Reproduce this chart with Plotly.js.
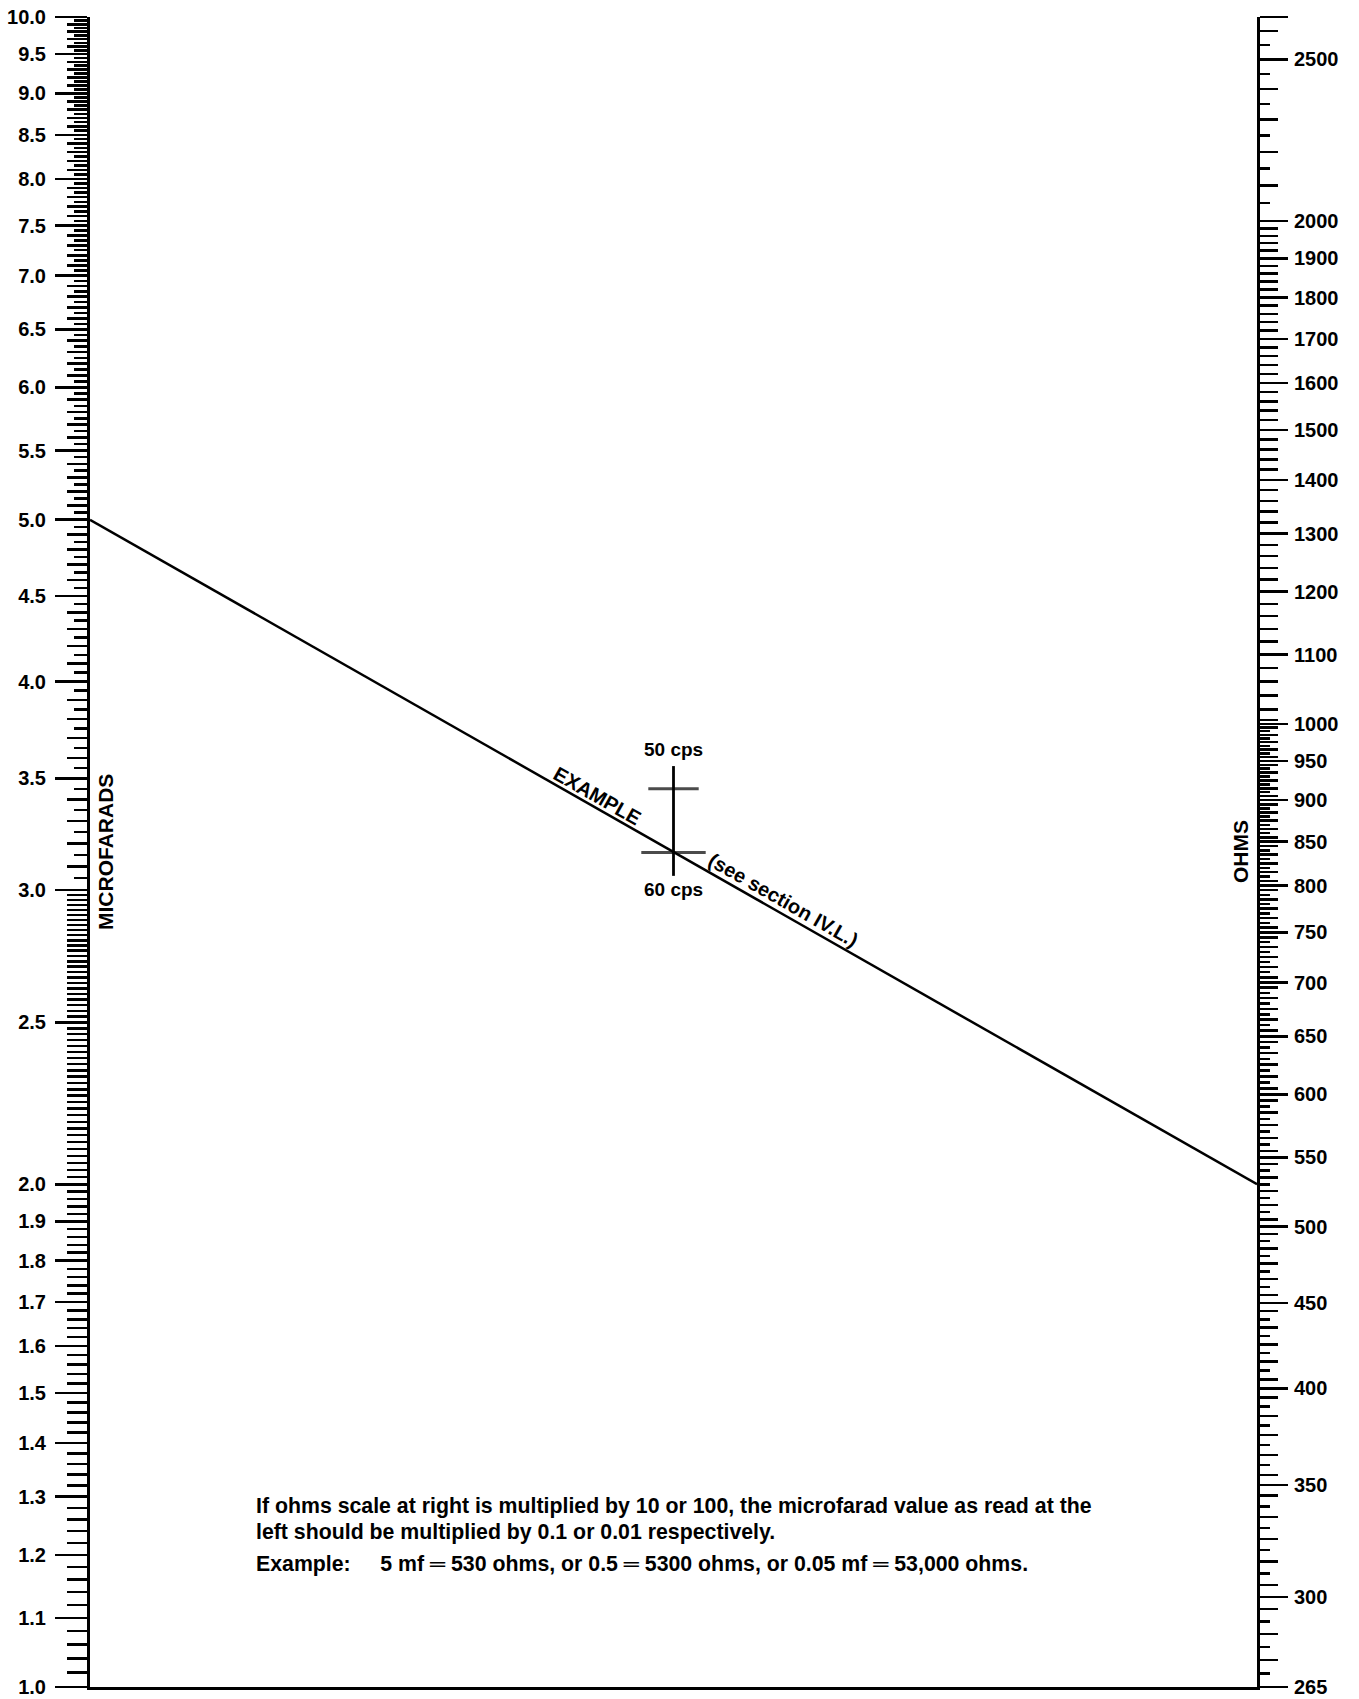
<!DOCTYPE html>
<html><head><meta charset="utf-8">
<script src="https://cdn.plot.ly/plotly-3.0.1.min.js"></script>
<style>html,body{margin:0;padding:0;background:#fff}#chart{width:1359px;height:1699px}</style>
</head><body><div id="chart"></div>
<script>
// ---- Left scale: microfarads ----
const mfdLabels = [1.0,1.1,1.2,1.3,1.4,1.5,1.6,1.7,1.8,1.9,2.0,2.5,3.0,3.5,4.0,4.5,5.0,5.5,6.0,6.5,7.0,7.5,8.0,8.5,9.0,9.5,10.0];
// graduation bands: [from, to, medium step, short step]
const mfdBands = [[1,3,0.02,null],[3,10,0.1,0.05]];
const mfdRange = [1, 10];

// ---- Right scale: ohms ----
const ohmLabels = [265,300,350,400,450,500,550,600,650,700,750,800,850,900,950,1000,1100,1200,1300,1400,1500,1600,1700,1800,1900,2000,2500,2650];
const ohmText   = ['265','300','350','400','450','500','550','600','650','700','750','800','850','900','950','1000','1100','1200','1300','1400','1500','1600','1700','1800','1900','2000','2500',''];
const ohmBands = [[265,1000,10,5],[1000,2000,20,null],[2000,2650,100,50]];
const ohmRange = [265, 2650];

// ---- Example ----
const exampleMfd = 5.0;
const exampleOhms = 530;
const freqLabels = ['50 cps','60 cps'];
const freqMarks  = [3.45, 3.16];     // positions on the microfarad scale (centre line)
const freqStem   = [3.06, 3.56];

const noteLines = [
  'If ohms scale at right is multiplied by 10 or 100, the microfarad value as read at the',
  'left should be multiplied by 0.1 or 0.01 respectively.',
  'Example:&nbsp;&nbsp;&nbsp;&nbsp;&nbsp;5 mf&nbsp;\u2550&nbsp;530 ohms, or 0.5&nbsp;\u2550&nbsp;5300 ohms, or 0.05 mf&nbsp;\u2550&nbsp;53,000 ohms.'
];

function grads(bands, idx, exclude){
  const out=[]; const ex=new Set(exclude.map(v=>(+v).toFixed(4)));
  bands.forEach(b=>{
    const step=b[idx]; if(!step) return;
    const n=Math.round((b[1]-b[0])/step);
    for(let i=0;i<=n;i++){
      const v=+(b[0]+i*step).toFixed(4); const k=v.toFixed(4);
      if(!ex.has(k)){ex.add(k); out.push(v);}
    }
  });
  return out;
}
const mfdMed = grads(mfdBands,2,mfdLabels);
const mfdShort = grads(mfdBands,3,mfdLabels.concat(mfdMed));
const ohmMed = grads(ohmBands,2,ohmLabels);
const ohmShort = grads(ohmBands,3,ohmLabels.concat(ohmMed));

const L = Math.log10;
const leftR = [L(mfdRange[0]), L(mfdRange[1])];
const rightR = [L(ohmRange[0]), L(ohmRange[1])];
// map an ohm value onto the (left) microfarad axis through the two axis ranges
function ohmOnLeft(v){
  const f=(L(v)-rightR[0])/(rightR[1]-rightR[0]);
  return Math.pow(10, leftR[0]+f*(leftR[1]-leftR[0]));
}

const FONT = 'Liberation Sans, Arial, sans-serif';
const BLACK = '#000';
const tickFont = {family:FONT, size:20, color:BLACK, weight:'bold'};

function yax(extra){
  return Object.assign({
    type:'log', showgrid:false, zeroline:false, ticks:'outside', tickmode:'array',
    tickwidth:2.5, tickcolor:BLACK, fixedrange:true, anchor:'x'
  }, extra);
}

const traces = [
  {x:[0,1], y:[exampleMfd, ohmOnLeft(exampleOhms)], mode:'lines', line:{color:BLACK,width:2.5},
   xaxis:'x', yaxis:'y', hoverinfo:'skip', showlegend:false},
  {x:[0.5,0.5], y:freqStem, mode:'lines', line:{color:BLACK,width:2.8}, hoverinfo:'skip', showlegend:false},
  {x:freqMarks.map(()=>0.5), y:freqMarks, mode:'markers',
   marker:{symbol:'line-ew', size:[36,46], line:{color:BLACK,width:3}}, hoverinfo:'skip', showlegend:false},
  {x:[], y:[], yaxis:'y2', showlegend:false},
  {x:[], y:[], yaxis:'y3', showlegend:false},
  {x:[], y:[], yaxis:'y4', showlegend:false},
  {x:[], y:[], yaxis:'y5', showlegend:false},
  {x:[], y:[], yaxis:'y6', showlegend:false}
];

// positions along the example line
const uL = L(exampleMfd), uR = L(ohmOnLeft(exampleOhms));
const onLine = t => uL + t*(uR-uL);
const lineAngle = Math.atan2((uL-uR)/(leftR[1]-leftR[0])*1670, 1167)*180/Math.PI;

const annotations = [
  {xref:'paper', yref:'paper', x:0, y:0.5, xanchor:'center', yanchor:'middle', xshift:15, text:'MICROFARADS', textangle:-90, showarrow:false,
   font:{family:FONT,size:21,color:BLACK,weight:'bold'}},
  {xref:'paper', yref:'paper', x:1, y:0.5, xanchor:'center', yanchor:'middle', xshift:-17, text:'OHMS', textangle:-90, showarrow:false,
   font:{family:FONT,size:21,color:BLACK,weight:'bold'}},
  {x:0.435, y:onLine(0.435), xref:'x', yref:'y', yshift:13, text:'EXAMPLE', textangle:lineAngle, showarrow:false,
   font:{family:FONT,size:20,color:BLACK,weight:'bold'}},
  {x:0.594, y:onLine(0.594), xref:'x', yref:'y', yshift:14, text:'(see section IV.L.)', textangle:lineAngle, showarrow:false,
   font:{family:FONT,size:20,color:BLACK,weight:'bold'}}
];
freqLabels.forEach((t,i)=>{
  annotations.push({x:0.5, y:L(freqMarks[i]), xref:'x', yref:'y', yshift: i===0?39:-37, text:t, showarrow:false,
    font:{family:FONT,size:19,color:BLACK,weight:'bold'}});
});
const noteY = [0.1084, 0.0928, 0.0737];
noteLines.forEach((t,i)=>{
  annotations.push({xref:'paper', yref:'paper', x:0.1405, y:noteY[i], xanchor:'left', yanchor:'middle', text:t,
    showarrow:false, font:{family:FONT,size:21.3,color:BLACK,weight:'bold'}});
});

const layout = {
  width:1359, height:1699, paper_bgcolor:'#fff', plot_bgcolor:'#fff',
  margin:{l:90, r:102, t:17, b:12}, showlegend:false, dragmode:false,
  xaxis:{range:[0,1], showline:true, linewidth:3, linecolor:BLACK, showgrid:false, zeroline:false,
         showticklabels:false, ticks:'', fixedrange:true},
  yaxis: yax({range:leftR, side:'left', showline:true, linewidth:3, linecolor:BLACK, ticklen:32,
              tickvals:mfdLabels, ticktext:mfdLabels.map(v=>v.toFixed(1)), tickfont:tickFont, ticklabelstandoff:5}),
  yaxis3: yax({range:leftR, side:'left', overlaying:'y', ticklen:22, tickvals:mfdMed, showticklabels:false, showline:false}),
  yaxis5: yax({range:leftR, side:'left', overlaying:'y', ticklen:15, tickvals:mfdShort, showticklabels:false, showline:false}),
  yaxis2: yax({range:rightR, side:'right', overlaying:'y', showline:true, linewidth:3, linecolor:BLACK, ticklen:28,
              tickvals:ohmLabels, ticktext:ohmText, tickfont:tickFont, ticklabelstandoff:2}),
  yaxis4: yax({range:rightR, side:'right', overlaying:'y', ticklen:20, tickvals:ohmMed, showticklabels:false, showline:false}),
  yaxis6: yax({range:rightR, side:'right', overlaying:'y', ticklen:12, tickvals:ohmShort, showticklabels:false, showline:false}),
  annotations: annotations
};

Plotly.newPlot('chart', traces, layout, {staticPlot:true, displayModeBar:false});
</script></body></html>
